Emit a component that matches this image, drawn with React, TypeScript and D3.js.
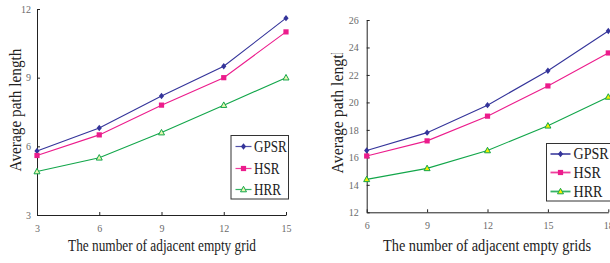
import React, { useRef, useEffect } from 'react'
import * as d3 from 'd3'

// left panel
const leftX = [3, 6, 9, 12, 15]
const leftGPSR = [5.8, 6.8, 8.2, 9.5, 11.6]
const leftHSR = [5.6, 6.5, 7.8, 9.0, 11.0]
const leftHRR = [4.9, 5.5, 6.6, 7.8, 9.0]
const leftYTicks = [3, 6, 9, 12]

// right panel
const rightX = [6, 9, 12, 15, 18]
const rightGPSR = [16.5, 17.8, 19.8, 22.3, 25.2]
const rightHSR = [16.1, 17.2, 19.0, 21.2, 23.6]
const rightHRR = [14.4, 15.2, 16.5, 18.3, 20.4]
const rightYTicks = [12, 14, 16, 18, 20, 22, 24, 26]

const seriesNames = ['GPSR', 'HSR', 'HRR']

const FONT = '"Liberation Serif", "Times New Roman", serif'
const COLORS = ['#34349a', '#ec1c8c', '#12a64a']

interface LegendCfg {
  x: number; y: number; w: number; h: number
  rows: number[]
  lineX: number; lineLen: number
  textX: number; fontSize: number; sx: number
  lineW: number
}

interface PanelCfg {
  xs: number[]
  series: number[][]
  xDomain: [number, number]
  yDomain: [number, number]
  xRange: [number, number]
  yRange: [number, number]
  yTicks: number[]
  yPad: number
  xTitle: string
  xTitleX: number
  xTitleLen: number
  yTitleX: number
  yTitleY: number
  yTitleLen: number
  yClip?: number
  legend: LegendCfg
  triFill: string
}

const App: React.FC = () => {
  const svgRef = useRef<SVGSVGElement>(null)

  useEffect(() => {
    if (!svgRef.current) return
    const svg = d3.select(svgRef.current)
    svg.selectAll('*').remove()

    const drawMarker = (g: d3.Selection<SVGGElement, unknown, null, undefined>, si: number, cx: number, cy: number, triFill: string) => {
      if (si === 0) {
        g.append('path')
          .attr('d', `M${cx},${cy - 3.2}L${cx + 2.6},${cy}L${cx},${cy + 3.2}L${cx - 2.6},${cy}Z`)
          .attr('fill', COLORS[0])
      } else if (si === 1) {
        g.append('rect')
          .attr('x', cx - 2.6).attr('y', cy - 2.6).attr('width', 5.2).attr('height', 5.2)
          .attr('fill', COLORS[1])
      } else {
        g.append('path')
          .attr('d', `M${cx},${cy - 3.2}L${cx + 3},${cy + 2.3}L${cx - 3},${cy + 2.3}Z`)
          .attr('fill', triFill).attr('stroke', COLORS[2]).attr('stroke-width', 1)
      }
    }

    const drawPanel = (cfg: PanelCfg, idx: number) => {
      const g = svg.append('g')
      const x = d3.scaleLinear().domain(cfg.xDomain).range(cfg.xRange)
      const y = d3.scaleLinear().domain(cfg.yDomain).range(cfg.yRange)

      // axes, ticks point inward
      const ax = g.append('g')
        .attr('transform', `translate(0,${cfg.yRange[0]})`)
        .call(d3.axisBottom(x).tickValues(cfg.xs).tickSizeInner(-3).tickSizeOuter(0).tickPadding(10))
      const ay = g.append('g')
        .attr('transform', `translate(${cfg.xRange[0]},0)`)
        .call(d3.axisLeft(y).tickValues(cfg.yTicks).tickSizeInner(-3).tickSizeOuter(0).tickPadding(cfg.yPad))
      ;[ax, ay].forEach(a => {
        a.selectAll('path, line').attr('stroke', '#222').attr('stroke-width', 1)
        a.selectAll('text').attr('font-family', FONT).attr('font-size', 10).attr('fill', '#6a6a6a')
      })

      cfg.series.forEach((vals, si) => {
        const pts = vals.map((v, i) => [x(cfg.xs[i]), y(v)] as [number, number])
        g.append('path')
          .attr('d', d3.line()(pts))
          .attr('fill', 'none')
          .attr('stroke', COLORS[si])
          .attr('stroke-width', 1.1)
        pts.forEach(p => drawMarker(g, si, p[0], p[1], cfg.triFill))
      })

      // legend
      const L = cfg.legend
      g.append('rect')
        .attr('x', L.x).attr('y', L.y).attr('width', L.w).attr('height', L.h)
        .attr('fill', '#fff').attr('stroke', '#333').attr('stroke-width', 1)
      seriesNames.forEach((name, si) => {
        const ry = L.rows[si]
        g.append('line')
          .attr('x1', L.lineX).attr('x2', L.lineX + L.lineLen)
          .attr('y1', ry).attr('y2', ry)
          .attr('stroke', COLORS[si]).attr('stroke-width', L.lineW).attr('stroke-opacity', 0.85)
        drawMarker(g, si, L.lineX + L.lineLen / 2, ry, cfg.triFill)
        g.append('text')
          .attr('transform', `translate(${L.textX},${ry + L.fontSize * 0.34}) scale(${L.sx},1)`)
          .attr('font-family', FONT).attr('font-size', L.fontSize).attr('fill', '#222')
          .text(name)
      })

      // titles
      g.append('text')
        .attr('x', cfg.xTitleX - cfg.xTitleLen / 2).attr('y', 251)
        .attr('font-family', FONT).attr('font-size', 16).attr('fill', '#222')
        .attr('textLength', cfg.xTitleLen).attr('lengthAdjust', 'spacingAndGlyphs')
        .text(cfg.xTitle)

      const holder = g.append('g')
      if (cfg.yClip !== undefined) {
        const id = `yclip-${idx}`
        svg.append('defs').append('clipPath').attr('id', id)
          .append('rect').attr('x', cfg.yTitleX - 30).attr('y', cfg.yClip).attr('width', 40).attr('height', 263)
        holder.attr('clip-path', `url(#${id})`)
      }
      holder.append('text')
        .attr('transform', `translate(${cfg.yTitleX},${cfg.yTitleY}) rotate(-90)`)
        .attr('x', -cfg.yTitleLen / 2)
        .attr('font-family', FONT).attr('font-size', 17).attr('fill', '#222')
        .attr('textLength', cfg.yTitleLen).attr('lengthAdjust', 'spacingAndGlyphs')
        .text('Average path length')
    }

    drawPanel({
      xs: leftX,
      series: [leftGPSR, leftHSR, leftHRR],
      xDomain: [3, 15], yDomain: [3, 12],
      xRange: [37, 286], yRange: [215, 9],
      yTicks: leftYTicks, yPad: 6,
      xTitle: 'The number of adjacent empty grid', xTitleX: 162, xTitleLen: 188,
      yTitleX: 21, yTitleY: 110, yTitleLen: 123,
      legend: {
        x: 231, y: 135.5, w: 57.5, h: 63.5, rows: [146.5, 168.5, 189.5],
        lineX: 235.5, lineLen: 16, textX: 254, fontSize: 17.5, sx: 0.75, lineW: 1.2
      },
      triFill: '#eaf7b0'
    }, 0)

    drawPanel({
      xs: rightX,
      series: [rightGPSR, rightHSR, rightHRR],
      xDomain: [6, 18], yDomain: [12, 26],
      xRange: [366.7, 608.3], yRange: [212.3, 20],
      yTicks: rightYTicks, yPad: 8,
      xTitle: 'The number of adjacent empty grids', xTitleX: 487, xTitleLen: 208,
      yTitleX: 342.5, yTitleY: 110, yTitleLen: 127,
      yClip: 53,
      legend: {
        x: 546.5, y: 143.5, w: 70, h: 57.5, rows: [154, 172.5, 191.5],
        lineX: 550.5, lineLen: 20, textX: 573.5, fontSize: 16, sx: 0.88, lineW: 1.8
      },
      triFill: '#f5f000'
    }, 1)
  }, [])

  return (
    <svg
      ref={svgRef}
      width={610}
      height={263}
      style={{ position: 'absolute', left: 0, top: 0, background: '#fff' }}
    />
  )
}

export default App
